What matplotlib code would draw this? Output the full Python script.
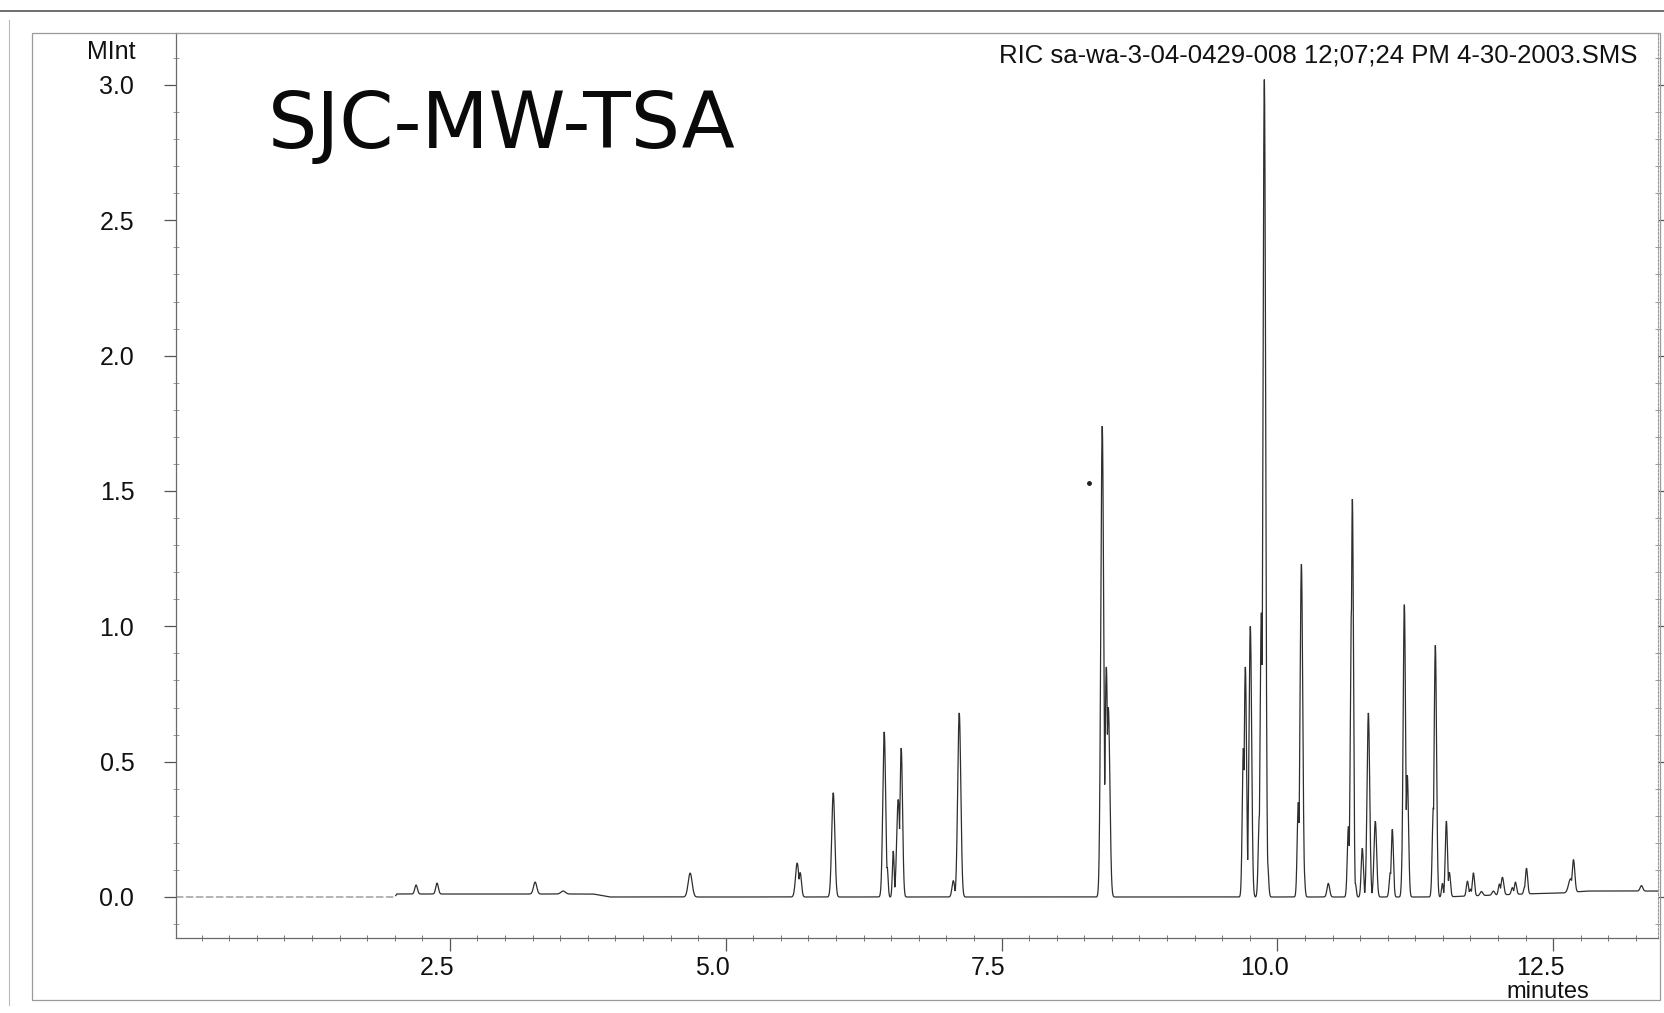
import numpy as np
import matplotlib
matplotlib.use("Agg")
import matplotlib.pyplot as plt
from matplotlib.ticker import MultipleLocator, FixedLocator
from matplotlib.transforms import ScaledTranslation
from matplotlib.patches import Rectangle
from matplotlib.lines import Line2D

# ---------------- data ----------------
title_text = "RIC sa-wa-3-04-0429-008 12;07;24 PM 4-30-2003.SMS"
note_text = "SJC-MW-TSA"
y_label = "MInt"
x_label = "minutes"

x_ticks = [2.5, 5.0, 7.5, 10.0, 12.5]
x_tick_labels = ["2.5", "5.0", "7.5", "10.0", "12.5"]
y_ticks = [0.0, 0.5, 1.0, 1.5, 2.0, 2.5, 3.0]
y_tick_labels = ["0.0", "0.5", "1.0", "1.5", "2.0", "2.5", "3.0"]

# peak retention times (min), heights (MInt above baseline), widths (sigma, min)
peak_t = [2.194, 2.384, 3.273, 3.527, 4.678,
          5.648, 5.675, 5.975, 6.437, 6.464, 6.519, 6.564, 6.591, 7.063, 7.117,
          8.413, 8.450, 8.468,
          9.683, 9.692, 9.710, 9.755, 9.837, 9.855, 9.882, 9.909,
          10.190, 10.218, 10.236, 10.462,
          10.644, 10.671, 10.680, 10.707, 10.770, 10.825, 10.888,
          11.024, 11.042, 11.142, 11.151, 11.178,
          11.414, 11.432, 11.496, 11.532, 11.559,
          11.723, 11.750, 11.777, 11.850, 11.958, 12.013, 12.040,
          12.130, 12.158, 12.240, 12.258, 12.657, 12.684, 13.300]
peak_h = [0.033, 0.040, 0.044, 0.011, 0.088,
          0.125, 0.090, 0.385, 0.610, 0.110, 0.170, 0.360, 0.550, 0.060, 0.680,
          1.740, 0.850, 0.700,
          0.090, 0.550, 0.850, 1.000, 0.300, 1.050, 3.020, 0.140,
          0.350, 1.230, 0.150, 0.050,
          0.260, 1.050, 1.470, 0.050, 0.180, 0.680, 0.280,
          0.090, 0.250, 0.350, 1.080, 0.450,
          0.330, 0.930, 0.050, 0.280, 0.090,
          0.055, 0.025, 0.085, 0.015, 0.015, 0.040, 0.065,
          0.025, 0.045, 0.025, 0.095, 0.050, 0.120, 0.020]
peak_w = [0.012, 0.012, 0.015, 0.020, 0.018,
          0.015, 0.012, 0.014, 0.013, 0.008, 0.008, 0.014, 0.012, 0.012, 0.014,
          0.013, 0.012, 0.014,
          0.008, 0.010, 0.011, 0.012, 0.010, 0.011, 0.012, 0.010,
          0.010, 0.012, 0.010, 0.012,
          0.010, 0.010, 0.010, 0.008, 0.010, 0.012, 0.012,
          0.010, 0.010, 0.010, 0.011, 0.011,
          0.010, 0.011, 0.008, 0.010, 0.010,
          0.010, 0.010, 0.010, 0.012, 0.012, 0.010, 0.012,
          0.010, 0.010, 0.008, 0.010, 0.018, 0.012, 0.012]

# baseline level (MInt) at given times
base_t = [0.0, 2.00, 2.02, 3.80, 3.95, 11.50, 12.30, 12.60, 12.80, 13.45]
base_v = [0.0, 0.0, 0.011, 0.011, 0.0, 0.0, 0.012, 0.015, 0.022, 0.022]

# stray mark on the scan
dot_t = [8.29]
dot_v = [1.53]

# ---------------- figure ----------------
W, H = 1664, 1013
plt.rcParams['font.family'] = ['Liberation Sans', 'DejaVu Sans']
fig = plt.figure(figsize=(W / 100, H / 100), dpi=100)
fig.patch.set_facecolor("white")

def fx(px):
    return px / W

def fy(py):
    return 1 - py / H

ax_l, ax_r, ax_t, ax_b = 176, 1658, 33, 938
ax = fig.add_axes([fx(ax_l), fy(ax_b), fx(ax_r) - fx(ax_l), fy(ax_t) - fy(ax_b)])
ax.set_facecolor("none")

t = np.arange(0.0, 13.45, 0.001)
trace = np.interp(t, base_t, base_v)
comp = np.zeros_like(t)
for c, h, s in zip(peak_t, peak_h, peak_w):
    comp = np.maximum(comp, h * np.exp(-0.5 * ((t - c) / s) ** 2))
trace = trace + comp

early = t <= 2.01
ax.plot(t[early], trace[early], color="#8a8a8a", lw=0.9, ls=(0, (6, 2)))
ax.plot(t[~early], trace[~early], color="#2e2e2e", lw=0.9, solid_joinstyle="miter")
ax.plot(dot_t, dot_v, ls="none", marker="o", ms=2.5, color="#222222")

ax.set_xlim(0.018, 13.45)
ax.set_ylim(-0.1515, 3.192)

for side in ["left", "bottom"]:
    ax.spines[side].set_color("#6a6a6a")
    ax.spines[side].set_linewidth(0.9)
for side in ["top", "right"]:
    ax.spines[side].set_color("#9a9a9a")
    ax.spines[side].set_linewidth(0.8)
    ax.spines[side].set_linestyle((0, (2, 1.5)))

ax.xaxis.set_major_locator(FixedLocator(x_ticks))
ax.set_xticklabels(x_tick_labels)
ax.xaxis.set_minor_locator(MultipleLocator(0.25))
ax.yaxis.set_major_locator(FixedLocator(y_ticks))
ax.set_yticklabels(y_tick_labels)
ax.yaxis.set_minor_locator(MultipleLocator(0.1))

ax.tick_params(axis="x", which="major", direction="out", length=9, width=0.9,
               color="#555555", labelsize=18, pad=4, labelcolor="#111111")
ax.tick_params(axis="x", which="minor", direction="inout", length=5, width=0.7,
               color="#777777")
ax.tick_params(axis="y", which="major", direction="out", length=9, width=0.9,
               color="#555555", labelsize=18, pad=21, labelcolor="#111111",
               right=True)
ax.tick_params(axis="y", which="minor", direction="inout", length=4, width=0.6,
               color="#888888", right=True)
ax.tick_params(axis="y", which="both", labelright=False)

# x tick labels sit a little left of their ticks on the original
offset = ScaledTranslation(-13 / 100, 0, fig.dpi_scale_trans)
for lab in ax.get_xticklabels():
    lab.set_transform(lab.get_transform() + offset)

# ---------------- texts ----------------
fig.text(fx(111), fy(52), y_label, ha="center", va="center", fontsize=18,
         color="#111111")
fig.text(fx(1637), fy(55), title_text, ha="right", va="center", fontsize=18.5,
         color="#111111")
fig.text(fx(1548), fy(992), x_label, ha="center", va="center", fontsize=17,
         color="#111111")
fig.text(fx(268), fy(148), note_text, ha="left", va="baseline", fontsize=56,
         family="DejaVu Sans", color="#0a0a0a")

# ---------------- page frame lines from the scan ----------------
fig.add_artist(Rectangle((fx(32), fy(1000)), fx(1660) - fx(32), fy(33) - fy(1000),
                         transform=fig.transFigure, fill=False,
                         edgecolor="#9a9a9a", lw=0.9))
fig.add_artist(Line2D([0, 1], [fy(11), fy(11)], transform=fig.transFigure,
                      color="#555555", lw=1.2))
fig.add_artist(Line2D([fx(9), fx(9)], [fy(20), fy(1005)], transform=fig.transFigure,
                      color="#b8b8b8", lw=0.8))

fig.savefig("out.png", dpi=100, facecolor="white")
